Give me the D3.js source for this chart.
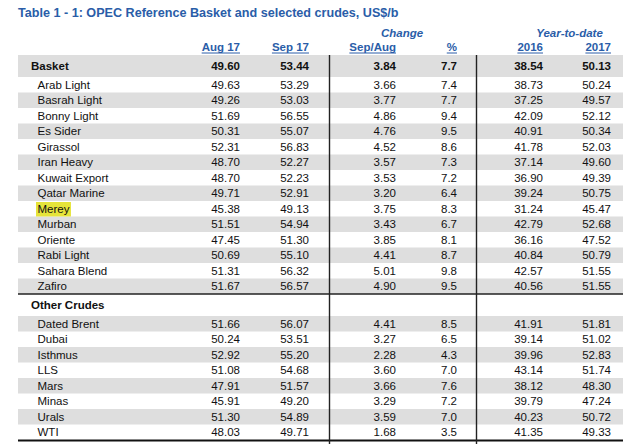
<!DOCTYPE html>
<html><head><meta charset="utf-8">
<script src="https://cdn.jsdelivr.net/npm/d3@7"></script>
<style>
html,body{margin:0;padding:0;background:#fff;}
svg{display:block;font-family:"Liberation Sans",Arial,sans-serif;}
</style></head>
<body><svg id="c" width="640" height="444"></svg>
<script>
const title = "Table 1 - 1: OPEC Reference Basket and selected crudes, US$/b";
const columnHeaders = ["Aug 17","Sep 17","Sep/Aug","%","2016","2017"];
const groupHeaders = ["Change","Year-to-date"];

const basketNames = ["Basket","Arab Light","Basrah Light","Bonny Light","Es Sider","Girassol","Iran Heavy","Kuwait Export","Qatar Marine","Merey","Murban","Oriente","Rabi Light","Sahara Blend","Zafiro"];
const basketAug  = ["49.60","49.63","49.26","51.69","50.31","52.31","48.70","48.70","49.71","45.38","51.51","47.45","50.69","51.31","51.67"];
const basketSep  = ["53.44","53.29","53.03","56.55","55.07","56.83","52.27","52.23","52.91","49.13","54.94","51.30","55.10","56.32","56.57"];
const basketChg  = ["3.84","3.66","3.77","4.86","4.76","4.52","3.57","3.53","3.20","3.75","3.43","3.85","4.41","5.01","4.90"];
const basketPct  = ["7.7","7.4","7.7","9.4","9.5","8.6","7.3","7.2","6.4","8.3","6.7","8.1","8.7","9.8","9.5"];
const basketY16  = ["38.54","38.73","37.25","42.09","40.91","41.78","37.14","36.90","39.24","31.24","42.79","36.16","40.84","42.57","40.56"];
const basketY17  = ["50.13","50.24","49.57","52.12","50.34","52.03","49.60","49.39","50.75","45.47","52.68","47.52","50.79","51.55","51.55"];

const otherTitle = "Other Crudes";
const otherNames = ["Dated Brent","Dubai","Isthmus","LLS","Mars","Minas","Urals","WTI"];
const otherAug = ["51.66","50.24","52.92","51.08","47.91","45.91","51.30","48.03"];
const otherSep = ["56.07","53.51","55.20","54.68","51.57","49.20","54.89","49.71"];
const otherChg = ["4.41","3.27","2.28","3.60","3.66","3.29","3.59","1.68"];
const otherPct = ["8.5","6.5","4.3","7.0","7.6","7.2","7.0","3.5"];
const otherY16 = ["41.91","39.14","39.96","43.14","38.12","39.79","40.23","41.35"];
const otherY17 = ["51.81","51.02","52.83","51.74","48.30","47.24","50.72","49.33"];

const highlighted = ["Merey"];

const blue = "#2a5da8", gray = "#dedede", ink = "#111";
const svg = d3.select("#c");
const left = 18, right = 623;
const colX = d3.scaleOrdinal().domain(d3.range(6)).range([240, 309, 396, 457, 543, 611]);
const rowH = 15.5;
const y1 = d3.scaleLinear().domain([1, basketNames.length]).range([77, 77 + (basketNames.length - 1) * rowH]);
const y2 = d3.scaleLinear().domain([0, otherNames.length]).range([316, 316 + otherNames.length * rowH]);

function rowTop1(i){ return i === 0 ? 55 : y1(i); }
function rowBot1(i){ return i === 0 ? 77 : y1(i + 1); }

// title
svg.append("text").attr("x", left).attr("y", 16.5).attr("fill", blue)
  .attr("font-weight", "bold").attr("font-size", 12.6).text(title);

// group headers
svg.append("text").attr("x", 402).attr("y", 37).attr("text-anchor","middle")
  .attr("fill", blue).attr("font-weight","bold").attr("font-style","italic").attr("font-size", 11.5).text(groupHeaders[0]);
svg.append("text").attr("x", 569.5).attr("y", 37).attr("text-anchor","middle")
  .attr("fill", blue).attr("font-weight","bold").attr("font-style","italic").attr("font-size", 11.5).text(groupHeaders[1]);

// column headers with underline
columnHeaders.forEach((h, i) => {
  const t = svg.append("text").attr("x", colX(i)).attr("y", 51).attr("text-anchor","end")
    .attr("fill", blue).attr("font-weight","bold").attr("font-size", 11.5).text(h);
  const w = t.node().getComputedTextLength();
  svg.append("line").attr("x1", colX(i) - w).attr("x2", colX(i)).attr("y1", 53).attr("y2", 53)
    .attr("stroke", blue).attr("stroke-width", 1);
});

// row bands
const g1 = basketNames.map((n, i) => ({name:n, vals:[basketAug[i],basketSep[i],basketChg[i],basketPct[i],basketY16[i],basketY17[i]], top:rowTop1(i), bot:rowBot1(i), i}));
const g2 = otherNames.map((n, i) => ({name:n, vals:[otherAug[i],otherSep[i],otherChg[i],otherPct[i],otherY16[i],otherY17[i]], top:y2(i), bot:y2(i+1), i}));

svg.selectAll("rect.b1").data(g1.filter(d => d.i % 2 === 0)).enter().append("rect")
  .attr("x", left).attr("width", right - left).attr("y", d => d.top).attr("height", d => d.bot - d.top).attr("fill", gray);
svg.selectAll("rect.b2").data(g2.filter(d => d.i % 2 === 0)).enter().append("rect")
  .attr("x", left).attr("width", right - left).attr("y", d => d.top).attr("height", d => d.bot - d.top).attr("fill", gray);

function drawRows(rows, boldFirst){
  rows.forEach(d => {
    const bold = boldFirst && d.i === 0;
    const base = (d.top + d.bot) / 2 + 4.2;
    if (highlighted.includes(d.name)) {
      const tmp = svg.append("text").attr("font-size", 11.5).text(d.name);
      const w = tmp.node().getComputedTextLength(); tmp.remove();
      svg.append("rect").attr("x", 36).attr("y", d.top + 1).attr("width", w + 3).attr("height", d.bot - d.top - 1).attr("fill", "#e6e43a");
    }
    svg.append("text").attr("x", bold ? 31 : 37.5).attr("y", base).attr("fill", ink)
      .attr("font-size", 11.5).attr("font-weight", bold ? "bold" : null).text(d.name);
    d.vals.forEach((v, j) => {
      svg.append("text").attr("x", colX(j)).attr("y", base).attr("text-anchor","end").attr("fill", ink)
        .attr("font-size", 11.5).attr("font-weight", bold ? "bold" : null).text(v);
    });
  });
}
drawRows(g1, true);
drawRows(g2, false);

svg.append("text").attr("x", 31).attr("y", 309).attr("fill", ink).attr("font-weight","bold")
  .attr("font-size", 11.5).text(otherTitle);

// rules
svg.append("line").attr("x1", left).attr("x2", right).attr("y1", y1(basketNames.length)).attr("y2", y1(basketNames.length))
  .attr("stroke", "#222").attr("stroke-width", 1.5);
svg.append("line").attr("x1", left).attr("x2", right).attr("y1", y2(otherNames.length) + 0.5).attr("y2", y2(otherNames.length) + 0.5)
  .attr("stroke", "#111").attr("stroke-width", 2.2);
[329.5, 476.5].forEach(x => {
  svg.append("line").attr("x1", x).attr("x2", x).attr("y1", 55).attr("y2", 444).attr("stroke", "#222").attr("stroke-width", 1.4);
});
</script></body></html>
